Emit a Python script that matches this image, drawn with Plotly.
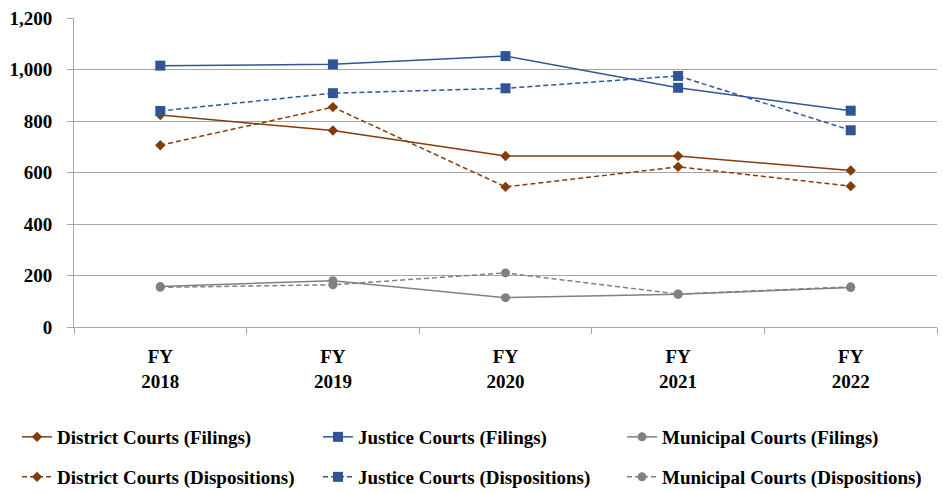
import plotly.graph_objects as go

years = ["FY<br>2018", "FY<br>2019", "FY<br>2020", "FY<br>2021", "FY<br>2022"]
district_filings = [823, 763, 664, 664, 608]
district_dispositions = [706, 854, 544, 622, 547]
justice_filings = [1015, 1020, 1052, 929, 840]
justice_dispositions = [839, 908, 927, 975, 764]
municipal_filings = [157, 180, 114, 127, 153]
municipal_dispositions = [154, 164, 210, 128, 156]
y_ticks = [0, 200, 400, 600, 800, 1000, 1200]

BROWN = "#843C0C"
BLUE = "#2F5597"
GRAY = "#808080"
FONT = "Liberation Serif"

# name, values, colour, symbol, size, dash, legend column, legend row
series = [
    ("District Courts (Filings)", district_filings, BROWN, "diamond", 8, "solid", 0, 0),
    ("Justice Courts (Filings)", justice_filings, BLUE, "square", 10, "solid", 1, 0),
    ("Municipal Courts (Filings)", municipal_filings, GRAY, "circle", 9, "solid", 2, 0),
    ("District Courts (Dispositions)", district_dispositions, BROWN, "diamond", 8, "5px,3px", 0, 1),
    ("Justice Courts (Dispositions)", justice_dispositions, BLUE, "square", 10, "5px,3px", 1, 1),
    ("Municipal Courts (Dispositions)", municipal_dispositions, GRAY, "circle", 9, "5px,3px", 2, 1),
]

col_x = [17, 318, 622]
row_y = [437, 477]

fig = go.Figure()
legends = {}
for i, (name, vals, col, sym, sz, dash, c, r) in enumerate(series):
    lg = "legend" if i == 0 else f"legend{i + 1}"
    fig.add_trace(go.Scatter(
        x=years, y=vals, name=name, mode="lines+markers",
        line=dict(color=col, width=1.5, dash=dash),
        marker=dict(symbol=sym, size=sz, color=col),
        legend=lg,
    ))
    legends[lg] = dict(
        orientation="h", xref="container", yref="container",
        x=col_x[c] / 943, y=1 - row_y[r] / 493,
        xanchor="left", yanchor="middle",
        font=dict(family=FONT, size=19, color="#000000", weight="bold"),
        bgcolor="rgba(0,0,0,0)", itemwidth=30,
    )

fig.update_layout(
    width=943, height=493,
    margin=dict(l=74, r=6, t=18, b=166),
    paper_bgcolor="white", plot_bgcolor="white",
    font=dict(family=FONT, size=19, color="#000000", weight="bold"),
    showlegend=True,
    xaxis=dict(
        type="category", tickson="boundaries", ticks="outside", ticklen=6,
        tickcolor="#A6A6A6", showline=True, linecolor="#A6A6A6", linewidth=1,
        showgrid=False, ticklabelstandoff=12,
        tickfont=dict(family=FONT, size=19, color="#000000", weight="bold"),
        range=[-0.5, 4.5],
    ),
    yaxis=dict(
        range=[0, 1200], tickvals=y_ticks, tickformat=",d",
        ticks="outside", ticklen=6, tickcolor="#A6A6A6",
        showline=True, linecolor="#A6A6A6", linewidth=1,
        showgrid=True, gridcolor="#A6A6A6", gridwidth=1, zeroline=False,
        tickfont=dict(family=FONT, size=19, color="#000000", weight="bold"),
        ticklabelstandoff=11,
    ),
)
fig.update_layout(**legends)

fig.write_html("out.html", config={"displayModeBar": False},
               post_script="document.body.style.margin='0';")
